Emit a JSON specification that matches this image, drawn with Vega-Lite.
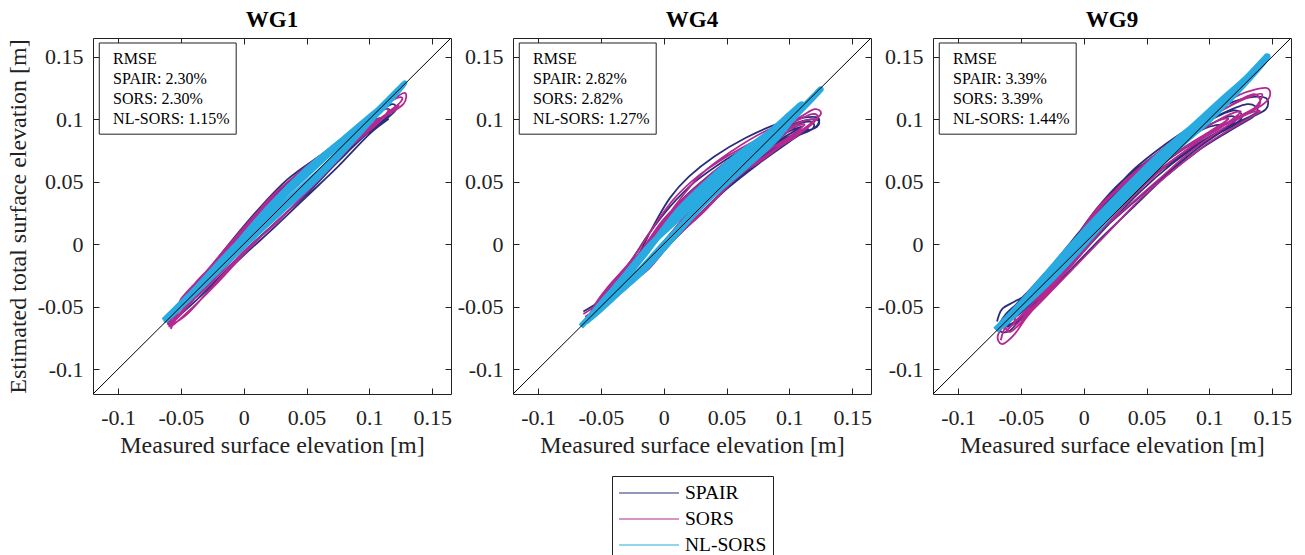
{
"$schema":"https://vega.github.io/schema/vega-lite/v6.json",
"padding":{"left":5,"top":8,"right":5,"bottom":0},
"background":"white",
"config":{
 "view":{"stroke":"#222","strokeWidth":1},
 "font":"Liberation Serif",
 "axis":{"labelFont":"Liberation Serif","labelFontSize":22,"titleFont":"Liberation Serif","titleFontSize":24,"titleFontWeight":"normal","labelColor":"#222","titleColor":"#222","domain":false,"tickColor":"#222","tickSize":-6,"grid":false},
 "title":{"font":"Liberation Serif","fontSize":23,"fontWeight":"bold","color":"#000","offset":6}
},
"resolve":{"scale":{"color":"shared"},"legend":{"color":"shared"}},
"spacing":4,
"data":{"values":[
{"p":"WG1","s":"info","t":"RMSE\nSPAIR: 2.30%\nSORS: 2.30%\nNL-SORS: 1.15%"},
{"p":"WG4","s":"info","t":"RMSE\nSPAIR: 2.82%\nSORS: 2.82%\nNL-SORS: 1.27%"},
{"p":"WG9","s":"info","t":"RMSE\nSPAIR: 3.39%\nSORS: 3.39%\nNL-SORS: 1.44%"},
{"p":"WG1","s":"SPAIR","x":-0.062,"y":-0.058},{"p":"WG1","s":"SPAIR","x":-0.045,"y":-0.04},{"p":"WG1","s":"SPAIR","x":-0.02,"y":-0.012},{"p":"WG1","s":"SPAIR","x":0.0,"y":0.008},{"p":"WG1","s":"SPAIR","x":0.02,"y":0.035},{"p":"WG1","s":"SPAIR","x":0.05,"y":0.062},{"p":"WG1","s":"SPAIR","x":0.08,"y":0.085},{"p":"WG1","s":"SPAIR","x":0.105,"y":0.104},{"p":"WG1","s":"SPAIR","x":0.118,"y":0.112},{"p":"WG1","s":"SPAIR","x":0.12,"y":0.106},{"p":"WG1","s":"SPAIR","x":0.1,"y":0.09},{"p":"WG1","s":"SPAIR","x":0.07,"y":0.066},{"p":"WG1","s":"SPAIR","x":0.04,"y":0.04},{"p":"WG1","s":"SPAIR","x":0.015,"y":0.022},{"p":"WG1","s":"SPAIR","x":-0.01,"y":-0.005},{"p":"WG1","s":"SPAIR","x":-0.03,"y":-0.028},{"p":"WG1","s":"SPAIR","x":-0.055,"y":-0.052},{"p":"WG1","s":"SPAIR","x":-0.04,"y":-0.035},{"p":"WG1","s":"SPAIR","x":-0.015,"y":-0.008},{"p":"WG1","s":"SPAIR","x":0.01,"y":0.022},{"p":"WG1","s":"SPAIR","x":0.04,"y":0.05},{"p":"WG1","s":"SPAIR","x":0.07,"y":0.075},{"p":"WG1","s":"SPAIR","x":0.095,"y":0.095},{"p":"WG1","s":"SPAIR","x":0.11,"y":0.101},{"p":"WG1","s":"SPAIR","x":0.098,"y":0.09},{"p":"WG1","s":"SPAIR","x":0.075,"y":0.066},{"p":"WG1","s":"SPAIR","x":0.065,"y":0.062},{"p":"WG1","s":"SPAIR","x":0.035,"y":0.033},{"p":"WG1","s":"SPAIR","x":0.005,"y":0.008},{"p":"WG1","s":"SPAIR","x":-0.025,"y":-0.024},{"p":"WG1","s":"SPAIR","x":-0.05,"y":-0.048},{"p":"WG1","s":"SPAIR","x":-0.06,"y":-0.06},{"p":"WG1","s":"SPAIR","x":-0.045,"y":-0.041},{"p":"WG1","s":"SPAIR","x":-0.02,"y":-0.016},{"p":"WG1","s":"SPAIR","x":0.005,"y":0.012},{"p":"WG1","s":"SPAIR","x":0.03,"y":0.04},{"p":"WG1","s":"SPAIR","x":0.055,"y":0.062},{"p":"WG1","s":"SPAIR","x":0.085,"y":0.088},{"p":"WG1","s":"SPAIR","x":0.09,"y":0.085},{"p":"WG1","s":"SPAIR","x":0.06,"y":0.058},{"p":"WG1","s":"SPAIR","x":0.03,"y":0.03},{"p":"WG1","s":"SPAIR","x":0.0,"y":0.0},{"p":"WG1","s":"SPAIR","x":-0.03,"y":-0.03},{"p":"WG1","s":"SPAIR","x":-0.058,"y":-0.055},
{"p":"WG1","s":"SPAIR","x":-0.04,"y":-0.036},{"p":"WG1","s":"SPAIR","x":-0.015,"y":-0.004},{"p":"WG1","s":"SPAIR","x":0.01,"y":0.026},{"p":"WG1","s":"SPAIR","x":0.035,"y":0.052},{"p":"WG1","s":"SPAIR","x":0.065,"y":0.074},{"p":"WG1","s":"SPAIR","x":0.09,"y":0.094},{"p":"WG1","s":"SPAIR","x":0.112,"y":0.108},{"p":"WG1","s":"SPAIR","x":0.115,"y":0.103},{"p":"WG1","s":"SPAIR","x":0.095,"y":0.086},{"p":"WG1","s":"SPAIR","x":0.065,"y":0.06},{"p":"WG1","s":"SPAIR","x":0.04,"y":0.036},{"p":"WG1","s":"SPAIR","x":0.012,"y":0.014},{"p":"WG1","s":"SPAIR","x":-0.012,"y":-0.01},{"p":"WG1","s":"SPAIR","x":-0.035,"y":-0.034},{"p":"WG1","s":"SPAIR","x":-0.056,"y":-0.058},{"p":"WG1","s":"SPAIR","x":-0.042,"y":-0.038},{"p":"WG1","s":"SPAIR","x":-0.018,"y":-0.01},{"p":"WG1","s":"SPAIR","x":0.008,"y":0.018},{"p":"WG1","s":"SPAIR","x":0.03,"y":0.044},{"p":"WG1","s":"SPAIR","x":0.06,"y":0.066},{"p":"WG1","s":"SPAIR","x":0.088,"y":0.09},{"p":"WG1","s":"SPAIR","x":0.102,"y":0.098},{"p":"WG1","s":"SPAIR","x":0.085,"y":0.08},{"p":"WG1","s":"SPAIR","x":0.055,"y":0.052},{"p":"WG1","s":"SPAIR","x":0.025,"y":0.026},{"p":"WG1","s":"SPAIR","x":0.0,"y":0.003},{"p":"WG1","s":"SPAIR","x":-0.025,"y":-0.026},{"p":"WG1","s":"SPAIR","x":-0.05,"y":-0.05},
{"p":"WG1","s":"SPAIR","x":-0.06,"y":-0.064},{"p":"WG1","s":"SPAIR","x":-0.04,"y":-0.047},{"p":"WG1","s":"SPAIR","x":-0.02,"y":-0.027},{"p":"WG1","s":"SPAIR","x":0.0,"y":-0.006},{"p":"WG1","s":"SPAIR","x":0.025,"y":0.017},{"p":"WG1","s":"SPAIR","x":0.05,"y":0.04},{"p":"WG1","s":"SPAIR","x":0.075,"y":0.066},{"p":"WG1","s":"SPAIR","x":0.1,"y":0.09},{"p":"WG1","s":"SPAIR","x":0.115,"y":0.1},{"p":"WG1","s":"SPAIR","x":0.1,"y":0.088},{"p":"WG1","s":"SPAIR","x":0.075,"y":0.062},{"p":"WG1","s":"SPAIR","x":0.05,"y":0.038},{"p":"WG1","s":"SPAIR","x":0.025,"y":0.014},{"p":"WG1","s":"SPAIR","x":0.0,"y":-0.009},{"p":"WG1","s":"SPAIR","x":-0.025,"y":-0.033},{"p":"WG1","s":"SPAIR","x":-0.05,"y":-0.056},
{"p":"WG1","s":"SORS","x":-0.058,"y":-0.068},{"p":"WG1","s":"SORS","x":-0.05,"y":-0.05},{"p":"WG1","s":"SORS","x":-0.035,"y":-0.03},{"p":"WG1","s":"SORS","x":-0.015,"y":-0.008},{"p":"WG1","s":"SORS","x":0.005,"y":0.016},{"p":"WG1","s":"SORS","x":0.03,"y":0.042},{"p":"WG1","s":"SORS","x":0.06,"y":0.068},{"p":"WG1","s":"SORS","x":0.09,"y":0.093},{"p":"WG1","s":"SORS","x":0.115,"y":0.113},{"p":"WG1","s":"SORS","x":0.128,"y":0.121},{"p":"WG1","s":"SORS","x":0.127,"y":0.112},{"p":"WG1","s":"SORS","x":0.11,"y":0.1},{"p":"WG1","s":"SORS","x":0.085,"y":0.08},{"p":"WG1","s":"SORS","x":0.055,"y":0.055},{"p":"WG1","s":"SORS","x":0.03,"y":0.032},{"p":"WG1","s":"SORS","x":0.008,"y":0.012},{"p":"WG1","s":"SORS","x":-0.015,"y":-0.014},{"p":"WG1","s":"SORS","x":-0.035,"y":-0.036},{"p":"WG1","s":"SORS","x":-0.052,"y":-0.058},{"p":"WG1","s":"SORS","x":-0.06,"y":-0.062},{"p":"WG1","s":"SORS","x":-0.045,"y":-0.04},{"p":"WG1","s":"SORS","x":-0.025,"y":-0.018},{"p":"WG1","s":"SORS","x":-0.005,"y":0.006},{"p":"WG1","s":"SORS","x":0.02,"y":0.036},{"p":"WG1","s":"SORS","x":0.045,"y":0.058},{"p":"WG1","s":"SORS","x":0.075,"y":0.082},{"p":"WG1","s":"SORS","x":0.1,"y":0.102},{"p":"WG1","s":"SORS","x":0.115,"y":0.108},{"p":"WG1","s":"SORS","x":0.105,"y":0.095},{"p":"WG1","s":"SORS","x":0.075,"y":0.07},{"p":"WG1","s":"SORS","x":0.045,"y":0.044},{"p":"WG1","s":"SORS","x":0.02,"y":0.022},{"p":"WG1","s":"SORS","x":-0.005,"y":-0.004},{"p":"WG1","s":"SORS","x":-0.028,"y":-0.032},{"p":"WG1","s":"SORS","x":-0.048,"y":-0.052},{"p":"WG1","s":"SORS","x":-0.055,"y":-0.06},{"p":"WG1","s":"SORS","x":-0.04,"y":-0.033},{"p":"WG1","s":"SORS","x":-0.02,"y":-0.012},{"p":"WG1","s":"SORS","x":0.0,"y":0.012},{"p":"WG1","s":"SORS","x":0.025,"y":0.038},{"p":"WG1","s":"SORS","x":0.05,"y":0.06},{"p":"WG1","s":"SORS","x":0.08,"y":0.085},{"p":"WG1","s":"SORS","x":0.1,"y":0.097},{"p":"WG1","s":"SORS","x":0.09,"y":0.086},{"p":"WG1","s":"SORS","x":0.06,"y":0.058},{"p":"WG1","s":"SORS","x":0.035,"y":0.034},{"p":"WG1","s":"SORS","x":0.01,"y":0.01},{"p":"WG1","s":"SORS","x":-0.02,"y":-0.022},{"p":"WG1","s":"SORS","x":-0.045,"y":-0.048},
{"p":"WG1","s":"SORS","x":-0.05,"y":-0.044},{"p":"WG1","s":"SORS","x":-0.03,"y":-0.022},{"p":"WG1","s":"SORS","x":-0.008,"y":0.004},{"p":"WG1","s":"SORS","x":0.015,"y":0.03},{"p":"WG1","s":"SORS","x":0.04,"y":0.054},{"p":"WG1","s":"SORS","x":0.07,"y":0.078},{"p":"WG1","s":"SORS","x":0.095,"y":0.098},{"p":"WG1","s":"SORS","x":0.12,"y":0.116},{"p":"WG1","s":"SORS","x":0.125,"y":0.114},{"p":"WG1","s":"SORS","x":0.1,"y":0.092},{"p":"WG1","s":"SORS","x":0.07,"y":0.064},{"p":"WG1","s":"SORS","x":0.04,"y":0.038},{"p":"WG1","s":"SORS","x":0.015,"y":0.016},{"p":"WG1","s":"SORS","x":-0.01,"y":-0.01},{"p":"WG1","s":"SORS","x":-0.03,"y":-0.033},{"p":"WG1","s":"SORS","x":-0.05,"y":-0.056},{"p":"WG1","s":"SORS","x":-0.058,"y":-0.064},{"p":"WG1","s":"SORS","x":-0.045,"y":-0.043},{"p":"WG1","s":"SORS","x":-0.022,"y":-0.016},{"p":"WG1","s":"SORS","x":0.0,"y":0.01},{"p":"WG1","s":"SORS","x":0.02,"y":0.032},{"p":"WG1","s":"SORS","x":0.045,"y":0.055},{"p":"WG1","s":"SORS","x":0.07,"y":0.076},{"p":"WG1","s":"SORS","x":0.095,"y":0.094},{"p":"WG1","s":"SORS","x":0.108,"y":0.1},{"p":"WG1","s":"SORS","x":0.095,"y":0.088},{"p":"WG1","s":"SORS","x":0.065,"y":0.062},{"p":"WG1","s":"SORS","x":0.04,"y":0.04},{"p":"WG1","s":"SORS","x":0.012,"y":0.014},{"p":"WG1","s":"SORS","x":-0.012,"y":-0.016},{"p":"WG1","s":"SORS","x":-0.035,"y":-0.04},{"p":"WG1","s":"SORS","x":-0.055,"y":-0.056},
{"p":"WG1","s":"SORS","x":-0.058,"y":-0.066},{"p":"WG1","s":"SORS","x":-0.04,"y":-0.05},{"p":"WG1","s":"SORS","x":-0.02,"y":-0.03},{"p":"WG1","s":"SORS","x":0.0,"y":-0.008},{"p":"WG1","s":"SORS","x":0.02,"y":0.012},{"p":"WG1","s":"SORS","x":0.045,"y":0.036},{"p":"WG1","s":"SORS","x":0.07,"y":0.062},{"p":"WG1","s":"SORS","x":0.095,"y":0.088},{"p":"WG1","s":"SORS","x":0.118,"y":0.108},{"p":"WG1","s":"SORS","x":0.122,"y":0.11},{"p":"WG1","s":"SORS","x":0.1,"y":0.094},{"p":"WG1","s":"SORS","x":0.075,"y":0.07},{"p":"WG1","s":"SORS","x":0.05,"y":0.042},{"p":"WG1","s":"SORS","x":0.025,"y":0.016},{"p":"WG1","s":"SORS","x":0.0,"y":-0.006},{"p":"WG1","s":"SORS","x":-0.025,"y":-0.034},{"p":"WG1","s":"SORS","x":-0.045,"y":-0.056},{"p":"WG1","s":"SORS","x":-0.06,"y":-0.066},
{"p":"WG1","s":"NL-SORS","x":-0.064,"y":-0.061},{"p":"WG1","s":"NL-SORS","x":-0.04,"y":-0.037},{"p":"WG1","s":"NL-SORS","x":-0.02,"y":-0.015},{"p":"WG1","s":"NL-SORS","x":0.0,"y":0.006},{"p":"WG1","s":"NL-SORS","x":0.02,"y":0.027},{"p":"WG1","s":"NL-SORS","x":0.05,"y":0.055},{"p":"WG1","s":"NL-SORS","x":0.08,"y":0.083},{"p":"WG1","s":"NL-SORS","x":0.105,"y":0.106},{"p":"WG1","s":"NL-SORS","x":0.128,"y":0.129},{"p":"WG1","s":"NL-SORS","x":0.115,"y":0.113},{"p":"WG1","s":"NL-SORS","x":0.09,"y":0.088},{"p":"WG1","s":"NL-SORS","x":0.06,"y":0.058},{"p":"WG1","s":"NL-SORS","x":0.03,"y":0.031},{"p":"WG1","s":"NL-SORS","x":0.005,"y":0.006},{"p":"WG1","s":"NL-SORS","x":-0.02,"y":-0.02},{"p":"WG1","s":"NL-SORS","x":-0.045,"y":-0.045},{"p":"WG1","s":"NL-SORS","x":-0.062,"y":-0.061},{"p":"WG1","s":"NL-SORS","x":-0.04,"y":-0.039},{"p":"WG1","s":"NL-SORS","x":-0.01,"y":-0.005},{"p":"WG1","s":"NL-SORS","x":0.02,"y":0.03},{"p":"WG1","s":"NL-SORS","x":0.05,"y":0.06},{"p":"WG1","s":"NL-SORS","x":0.08,"y":0.085},{"p":"WG1","s":"NL-SORS","x":0.11,"y":0.11},{"p":"WG1","s":"NL-SORS","x":0.09,"y":0.086},{"p":"WG1","s":"NL-SORS","x":0.06,"y":0.054},{"p":"WG1","s":"NL-SORS","x":0.03,"y":0.026},{"p":"WG1","s":"NL-SORS","x":0.0,"y":-0.002},{"p":"WG1","s":"NL-SORS","x":-0.03,"y":-0.031},{"p":"WG1","s":"NL-SORS","x":-0.058,"y":-0.058},
{"p":"WG4","s":"SPAIR","x":-0.064,"y":-0.054},{"p":"WG4","s":"SPAIR","x":-0.05,"y":-0.045},{"p":"WG4","s":"SPAIR","x":-0.035,"y":-0.03},{"p":"WG4","s":"SPAIR","x":-0.02,"y":-0.008},{"p":"WG4","s":"SPAIR","x":-0.008,"y":0.015},{"p":"WG4","s":"SPAIR","x":0.005,"y":0.037},{"p":"WG4","s":"SPAIR","x":0.02,"y":0.054},{"p":"WG4","s":"SPAIR","x":0.04,"y":0.07},{"p":"WG4","s":"SPAIR","x":0.065,"y":0.085},{"p":"WG4","s":"SPAIR","x":0.09,"y":0.096},{"p":"WG4","s":"SPAIR","x":0.11,"y":0.101},{"p":"WG4","s":"SPAIR","x":0.123,"y":0.101},{"p":"WG4","s":"SPAIR","x":0.12,"y":0.093},{"p":"WG4","s":"SPAIR","x":0.1,"y":0.086},{"p":"WG4","s":"SPAIR","x":0.08,"y":0.075},{"p":"WG4","s":"SPAIR","x":0.055,"y":0.058},{"p":"WG4","s":"SPAIR","x":0.03,"y":0.035},{"p":"WG4","s":"SPAIR","x":0.01,"y":0.012},{"p":"WG4","s":"SPAIR","x":-0.01,"y":-0.014},{"p":"WG4","s":"SPAIR","x":-0.03,"y":-0.032},{"p":"WG4","s":"SPAIR","x":-0.05,"y":-0.05},{"p":"WG4","s":"SPAIR","x":-0.06,"y":-0.058},{"p":"WG4","s":"SPAIR","x":-0.045,"y":-0.038},{"p":"WG4","s":"SPAIR","x":-0.025,"y":-0.018},{"p":"WG4","s":"SPAIR","x":-0.005,"y":0.01},{"p":"WG4","s":"SPAIR","x":0.015,"y":0.036},{"p":"WG4","s":"SPAIR","x":0.04,"y":0.058},{"p":"WG4","s":"SPAIR","x":0.065,"y":0.076},{"p":"WG4","s":"SPAIR","x":0.09,"y":0.09},{"p":"WG4","s":"SPAIR","x":0.115,"y":0.098},{"p":"WG4","s":"SPAIR","x":0.118,"y":0.092},{"p":"WG4","s":"SPAIR","x":0.095,"y":0.082},{"p":"WG4","s":"SPAIR","x":0.07,"y":0.067},{"p":"WG4","s":"SPAIR","x":0.045,"y":0.048},{"p":"WG4","s":"SPAIR","x":0.02,"y":0.025},{"p":"WG4","s":"SPAIR","x":0.0,"y":0.002},{"p":"WG4","s":"SPAIR","x":-0.02,"y":-0.022},{"p":"WG4","s":"SPAIR","x":-0.04,"y":-0.04},{"p":"WG4","s":"SPAIR","x":-0.055,"y":-0.055},{"p":"WG4","s":"SPAIR","x":-0.04,"y":-0.034},{"p":"WG4","s":"SPAIR","x":-0.02,"y":-0.01},{"p":"WG4","s":"SPAIR","x":0.0,"y":0.018},{"p":"WG4","s":"SPAIR","x":0.025,"y":0.045},{"p":"WG4","s":"SPAIR","x":0.05,"y":0.065},{"p":"WG4","s":"SPAIR","x":0.075,"y":0.08},{"p":"WG4","s":"SPAIR","x":0.1,"y":0.093},{"p":"WG4","s":"SPAIR","x":0.105,"y":0.088},{"p":"WG4","s":"SPAIR","x":0.08,"y":0.075},{"p":"WG4","s":"SPAIR","x":0.055,"y":0.056},{"p":"WG4","s":"SPAIR","x":0.03,"y":0.033},{"p":"WG4","s":"SPAIR","x":0.005,"y":0.006},{"p":"WG4","s":"SPAIR","x":-0.015,"y":-0.018},{"p":"WG4","s":"SPAIR","x":-0.035,"y":-0.036},{"p":"WG4","s":"SPAIR","x":-0.05,"y":-0.05},
{"p":"WG4","s":"SPAIR","x":-0.045,"y":-0.036},{"p":"WG4","s":"SPAIR","x":-0.028,"y":-0.016},{"p":"WG4","s":"SPAIR","x":-0.012,"y":0.008},{"p":"WG4","s":"SPAIR","x":0.005,"y":0.03},{"p":"WG4","s":"SPAIR","x":0.025,"y":0.05},{"p":"WG4","s":"SPAIR","x":0.05,"y":0.068},{"p":"WG4","s":"SPAIR","x":0.075,"y":0.083},{"p":"WG4","s":"SPAIR","x":0.1,"y":0.095},{"p":"WG4","s":"SPAIR","x":0.12,"y":0.1},{"p":"WG4","s":"SPAIR","x":0.122,"y":0.094},{"p":"WG4","s":"SPAIR","x":0.1,"y":0.084},{"p":"WG4","s":"SPAIR","x":0.075,"y":0.068},{"p":"WG4","s":"SPAIR","x":0.05,"y":0.05},{"p":"WG4","s":"SPAIR","x":0.025,"y":0.028},{"p":"WG4","s":"SPAIR","x":0.005,"y":0.006},{"p":"WG4","s":"SPAIR","x":-0.015,"y":-0.017},{"p":"WG4","s":"SPAIR","x":-0.035,"y":-0.036},{"p":"WG4","s":"SPAIR","x":-0.058,"y":-0.056},{"p":"WG4","s":"SPAIR","x":-0.045,"y":-0.04},{"p":"WG4","s":"SPAIR","x":-0.025,"y":-0.016},{"p":"WG4","s":"SPAIR","x":-0.005,"y":0.012},{"p":"WG4","s":"SPAIR","x":0.02,"y":0.04},{"p":"WG4","s":"SPAIR","x":0.045,"y":0.06},{"p":"WG4","s":"SPAIR","x":0.07,"y":0.074},{"p":"WG4","s":"SPAIR","x":0.095,"y":0.088},{"p":"WG4","s":"SPAIR","x":0.11,"y":0.094},{"p":"WG4","s":"SPAIR","x":0.09,"y":0.082},{"p":"WG4","s":"SPAIR","x":0.065,"y":0.064},{"p":"WG4","s":"SPAIR","x":0.04,"y":0.042},{"p":"WG4","s":"SPAIR","x":0.015,"y":0.018},{"p":"WG4","s":"SPAIR","x":-0.008,"y":-0.008},{"p":"WG4","s":"SPAIR","x":-0.03,"y":-0.03},{"p":"WG4","s":"SPAIR","x":-0.052,"y":-0.05},
{"p":"WG4","s":"SPAIR","x":-0.058,"y":-0.056},{"p":"WG4","s":"SPAIR","x":-0.04,"y":-0.042},{"p":"WG4","s":"SPAIR","x":-0.02,"y":-0.024},{"p":"WG4","s":"SPAIR","x":0.0,"y":-0.002},{"p":"WG4","s":"SPAIR","x":0.02,"y":0.016},{"p":"WG4","s":"SPAIR","x":0.045,"y":0.04},{"p":"WG4","s":"SPAIR","x":0.07,"y":0.062},{"p":"WG4","s":"SPAIR","x":0.095,"y":0.082},{"p":"WG4","s":"SPAIR","x":0.115,"y":0.092},{"p":"WG4","s":"SPAIR","x":0.1,"y":0.082},{"p":"WG4","s":"SPAIR","x":0.075,"y":0.064},{"p":"WG4","s":"SPAIR","x":0.05,"y":0.044},{"p":"WG4","s":"SPAIR","x":0.025,"y":0.02},{"p":"WG4","s":"SPAIR","x":0.005,"y":0.0},{"p":"WG4","s":"SPAIR","x":-0.015,"y":-0.022},{"p":"WG4","s":"SPAIR","x":-0.035,"y":-0.038},{"p":"WG4","s":"SPAIR","x":-0.055,"y":-0.054},
{"p":"WG4","s":"SORS","x":-0.064,"y":-0.056},{"p":"WG4","s":"SORS","x":-0.05,"y":-0.046},{"p":"WG4","s":"SORS","x":-0.035,"y":-0.03},{"p":"WG4","s":"SORS","x":-0.02,"y":-0.013},{"p":"WG4","s":"SORS","x":-0.005,"y":0.01},{"p":"WG4","s":"SORS","x":0.01,"y":0.032},{"p":"WG4","s":"SORS","x":0.03,"y":0.056},{"p":"WG4","s":"SORS","x":0.055,"y":0.075},{"p":"WG4","s":"SORS","x":0.08,"y":0.09},{"p":"WG4","s":"SORS","x":0.105,"y":0.1},{"p":"WG4","s":"SORS","x":0.12,"y":0.108},{"p":"WG4","s":"SORS","x":0.125,"y":0.104},{"p":"WG4","s":"SORS","x":0.115,"y":0.095},{"p":"WG4","s":"SORS","x":0.095,"y":0.08},{"p":"WG4","s":"SORS","x":0.075,"y":0.065},{"p":"WG4","s":"SORS","x":0.05,"y":0.05},{"p":"WG4","s":"SORS","x":0.025,"y":0.028},{"p":"WG4","s":"SORS","x":0.005,"y":0.005},{"p":"WG4","s":"SORS","x":-0.015,"y":-0.02},{"p":"WG4","s":"SORS","x":-0.035,"y":-0.04},{"p":"WG4","s":"SORS","x":-0.055,"y":-0.054},{"p":"WG4","s":"SORS","x":-0.045,"y":-0.037},{"p":"WG4","s":"SORS","x":-0.03,"y":-0.02},{"p":"WG4","s":"SORS","x":-0.01,"y":0.002},{"p":"WG4","s":"SORS","x":0.01,"y":0.028},{"p":"WG4","s":"SORS","x":0.035,"y":0.052},{"p":"WG4","s":"SORS","x":0.06,"y":0.07},{"p":"WG4","s":"SORS","x":0.085,"y":0.086},{"p":"WG4","s":"SORS","x":0.11,"y":0.098},{"p":"WG4","s":"SORS","x":0.12,"y":0.099},{"p":"WG4","s":"SORS","x":0.11,"y":0.09},{"p":"WG4","s":"SORS","x":0.085,"y":0.076},{"p":"WG4","s":"SORS","x":0.06,"y":0.06},{"p":"WG4","s":"SORS","x":0.035,"y":0.04},{"p":"WG4","s":"SORS","x":0.012,"y":0.016},{"p":"WG4","s":"SORS","x":-0.008,"y":-0.01},{"p":"WG4","s":"SORS","x":-0.028,"y":-0.032},{"p":"WG4","s":"SORS","x":-0.048,"y":-0.048},{"p":"WG4","s":"SORS","x":-0.06,"y":-0.058},{"p":"WG4","s":"SORS","x":-0.04,"y":-0.03},{"p":"WG4","s":"SORS","x":-0.02,"y":-0.008},{"p":"WG4","s":"SORS","x":0.0,"y":0.02},{"p":"WG4","s":"SORS","x":0.025,"y":0.045},{"p":"WG4","s":"SORS","x":0.05,"y":0.066},{"p":"WG4","s":"SORS","x":0.08,"y":0.084},{"p":"WG4","s":"SORS","x":0.1,"y":0.092},{"p":"WG4","s":"SORS","x":0.09,"y":0.083},{"p":"WG4","s":"SORS","x":0.065,"y":0.066},{"p":"WG4","s":"SORS","x":0.04,"y":0.045},{"p":"WG4","s":"SORS","x":0.015,"y":0.02},{"p":"WG4","s":"SORS","x":-0.01,"y":-0.013},{"p":"WG4","s":"SORS","x":-0.035,"y":-0.035},{"p":"WG4","s":"SORS","x":-0.055,"y":-0.05},
{"p":"WG4","s":"SORS","x":-0.045,"y":-0.035},{"p":"WG4","s":"SORS","x":-0.025,"y":-0.012},{"p":"WG4","s":"SORS","x":-0.008,"y":0.014},{"p":"WG4","s":"SORS","x":0.008,"y":0.036},{"p":"WG4","s":"SORS","x":0.028,"y":0.055},{"p":"WG4","s":"SORS","x":0.05,"y":0.07},{"p":"WG4","s":"SORS","x":0.075,"y":0.084},{"p":"WG4","s":"SORS","x":0.1,"y":0.096},{"p":"WG4","s":"SORS","x":0.118,"y":0.104},{"p":"WG4","s":"SORS","x":0.122,"y":0.1},{"p":"WG4","s":"SORS","x":0.105,"y":0.088},{"p":"WG4","s":"SORS","x":0.08,"y":0.07},{"p":"WG4","s":"SORS","x":0.055,"y":0.054},{"p":"WG4","s":"SORS","x":0.03,"y":0.032},{"p":"WG4","s":"SORS","x":0.008,"y":0.01},{"p":"WG4","s":"SORS","x":-0.012,"y":-0.015},{"p":"WG4","s":"SORS","x":-0.032,"y":-0.035},{"p":"WG4","s":"SORS","x":-0.055,"y":-0.056},{"p":"WG4","s":"SORS","x":-0.042,"y":-0.036},{"p":"WG4","s":"SORS","x":-0.022,"y":-0.012},{"p":"WG4","s":"SORS","x":-0.002,"y":0.016},{"p":"WG4","s":"SORS","x":0.02,"y":0.04},{"p":"WG4","s":"SORS","x":0.045,"y":0.061},{"p":"WG4","s":"SORS","x":0.07,"y":0.076},{"p":"WG4","s":"SORS","x":0.095,"y":0.09},{"p":"WG4","s":"SORS","x":0.112,"y":0.096},{"p":"WG4","s":"SORS","x":0.1,"y":0.086},{"p":"WG4","s":"SORS","x":0.075,"y":0.07},{"p":"WG4","s":"SORS","x":0.05,"y":0.05},{"p":"WG4","s":"SORS","x":0.025,"y":0.026},{"p":"WG4","s":"SORS","x":0.0,"y":0.0},{"p":"WG4","s":"SORS","x":-0.025,"y":-0.027},{"p":"WG4","s":"SORS","x":-0.05,"y":-0.05},
{"p":"WG4","s":"SORS","x":-0.062,"y":-0.058},{"p":"WG4","s":"SORS","x":-0.045,"y":-0.046},{"p":"WG4","s":"SORS","x":-0.025,"y":-0.028},{"p":"WG4","s":"SORS","x":-0.005,"y":-0.008},{"p":"WG4","s":"SORS","x":0.015,"y":0.012},{"p":"WG4","s":"SORS","x":0.035,"y":0.03},{"p":"WG4","s":"SORS","x":0.06,"y":0.056},{"p":"WG4","s":"SORS","x":0.085,"y":0.076},{"p":"WG4","s":"SORS","x":0.11,"y":0.09},{"p":"WG4","s":"SORS","x":0.12,"y":0.098},{"p":"WG4","s":"SORS","x":0.105,"y":0.086},{"p":"WG4","s":"SORS","x":0.08,"y":0.07},{"p":"WG4","s":"SORS","x":0.055,"y":0.05},{"p":"WG4","s":"SORS","x":0.03,"y":0.024},{"p":"WG4","s":"SORS","x":0.008,"y":0.004},{"p":"WG4","s":"SORS","x":-0.012,"y":-0.02},{"p":"WG4","s":"SORS","x":-0.032,"y":-0.034},{"p":"WG4","s":"SORS","x":-0.05,"y":-0.05},
{"p":"WG4","s":"NL-SORS","x":-0.066,"y":-0.066},{"p":"WG4","s":"NL-SORS","x":-0.045,"y":-0.043},{"p":"WG4","s":"NL-SORS","x":-0.025,"y":-0.02},{"p":"WG4","s":"NL-SORS","x":-0.005,"y":0.005},{"p":"WG4","s":"NL-SORS","x":0.015,"y":0.028},{"p":"WG4","s":"NL-SORS","x":0.035,"y":0.048},{"p":"WG4","s":"NL-SORS","x":0.06,"y":0.068},{"p":"WG4","s":"NL-SORS","x":0.085,"y":0.088},{"p":"WG4","s":"NL-SORS","x":0.105,"y":0.104},{"p":"WG4","s":"NL-SORS","x":0.125,"y":0.124},{"p":"WG4","s":"NL-SORS","x":0.11,"y":0.108},{"p":"WG4","s":"NL-SORS","x":0.09,"y":0.088},{"p":"WG4","s":"NL-SORS","x":0.065,"y":0.068},{"p":"WG4","s":"NL-SORS","x":0.04,"y":0.046},{"p":"WG4","s":"NL-SORS","x":0.02,"y":0.022},{"p":"WG4","s":"NL-SORS","x":0.0,"y":0.0},{"p":"WG4","s":"NL-SORS","x":-0.02,"y":-0.022},{"p":"WG4","s":"NL-SORS","x":-0.04,"y":-0.042},{"p":"WG4","s":"NL-SORS","x":-0.062,"y":-0.062},{"p":"WG4","s":"NL-SORS","x":-0.04,"y":-0.038},{"p":"WG4","s":"NL-SORS","x":-0.015,"y":-0.008},{"p":"WG4","s":"NL-SORS","x":0.01,"y":0.025},{"p":"WG4","s":"NL-SORS","x":0.035,"y":0.05},{"p":"WG4","s":"NL-SORS","x":0.06,"y":0.072},{"p":"WG4","s":"NL-SORS","x":0.085,"y":0.09},{"p":"WG4","s":"NL-SORS","x":0.11,"y":0.112},{"p":"WG4","s":"NL-SORS","x":0.09,"y":0.085},{"p":"WG4","s":"NL-SORS","x":0.065,"y":0.062},{"p":"WG4","s":"NL-SORS","x":0.04,"y":0.04},{"p":"WG4","s":"NL-SORS","x":0.015,"y":0.015},{"p":"WG4","s":"NL-SORS","x":-0.01,"y":-0.012},{"p":"WG4","s":"NL-SORS","x":-0.035,"y":-0.038},{"p":"WG4","s":"NL-SORS","x":-0.06,"y":-0.06},{"p":"WG4","s":"NL-SORS","x":-0.035,"y":-0.03},{"p":"WG4","s":"NL-SORS","x":-0.01,"y":0.0},{"p":"WG4","s":"NL-SORS","x":0.015,"y":0.024},{"p":"WG4","s":"NL-SORS","x":0.04,"y":0.052},{"p":"WG4","s":"NL-SORS","x":0.065,"y":0.074},{"p":"WG4","s":"NL-SORS","x":0.09,"y":0.091},{"p":"WG4","s":"NL-SORS","x":0.1,"y":0.1},{"p":"WG4","s":"NL-SORS","x":0.085,"y":0.082},{"p":"WG4","s":"NL-SORS","x":0.06,"y":0.06},{"p":"WG4","s":"NL-SORS","x":0.035,"y":0.036},{"p":"WG4","s":"NL-SORS","x":0.01,"y":0.008},{"p":"WG4","s":"NL-SORS","x":-0.015,"y":-0.02},{"p":"WG4","s":"NL-SORS","x":-0.04,"y":-0.042},
{"p":"WG9","s":"SPAIR","x":-0.069,"y":-0.062},{"p":"WG9","s":"SPAIR","x":-0.065,"y":-0.052},{"p":"WG9","s":"SPAIR","x":-0.055,"y":-0.046},{"p":"WG9","s":"SPAIR","x":-0.045,"y":-0.04},{"p":"WG9","s":"SPAIR","x":-0.03,"y":-0.025},{"p":"WG9","s":"SPAIR","x":-0.015,"y":-0.006},{"p":"WG9","s":"SPAIR","x":0.0,"y":0.013},{"p":"WG9","s":"SPAIR","x":0.02,"y":0.038},{"p":"WG9","s":"SPAIR","x":0.04,"y":0.06},{"p":"WG9","s":"SPAIR","x":0.065,"y":0.08},{"p":"WG9","s":"SPAIR","x":0.09,"y":0.097},{"p":"WG9","s":"SPAIR","x":0.11,"y":0.11},{"p":"WG9","s":"SPAIR","x":0.13,"y":0.117},{"p":"WG9","s":"SPAIR","x":0.145,"y":0.117},{"p":"WG9","s":"SPAIR","x":0.145,"y":0.108},{"p":"WG9","s":"SPAIR","x":0.13,"y":0.1},{"p":"WG9","s":"SPAIR","x":0.11,"y":0.09},{"p":"WG9","s":"SPAIR","x":0.09,"y":0.079},{"p":"WG9","s":"SPAIR","x":0.07,"y":0.066},{"p":"WG9","s":"SPAIR","x":0.045,"y":0.045},{"p":"WG9","s":"SPAIR","x":0.02,"y":0.02},{"p":"WG9","s":"SPAIR","x":0.0,"y":-0.002},{"p":"WG9","s":"SPAIR","x":-0.02,"y":-0.025},{"p":"WG9","s":"SPAIR","x":-0.035,"y":-0.043},{"p":"WG9","s":"SPAIR","x":-0.05,"y":-0.06},{"p":"WG9","s":"SPAIR","x":-0.06,"y":-0.07},{"p":"WG9","s":"SPAIR","x":-0.068,"y":-0.068},{"p":"WG9","s":"SPAIR","x":-0.062,"y":-0.056},{"p":"WG9","s":"SPAIR","x":-0.05,"y":-0.045},{"p":"WG9","s":"SPAIR","x":-0.035,"y":-0.03},{"p":"WG9","s":"SPAIR","x":-0.015,"y":-0.01},{"p":"WG9","s":"SPAIR","x":0.005,"y":0.02},{"p":"WG9","s":"SPAIR","x":0.025,"y":0.045},{"p":"WG9","s":"SPAIR","x":0.05,"y":0.066},{"p":"WG9","s":"SPAIR","x":0.075,"y":0.084},{"p":"WG9","s":"SPAIR","x":0.1,"y":0.099},{"p":"WG9","s":"SPAIR","x":0.12,"y":0.107},{"p":"WG9","s":"SPAIR","x":0.125,"y":0.1},{"p":"WG9","s":"SPAIR","x":0.105,"y":0.088},{"p":"WG9","s":"SPAIR","x":0.085,"y":0.075},{"p":"WG9","s":"SPAIR","x":0.06,"y":0.058},{"p":"WG9","s":"SPAIR","x":0.035,"y":0.035},{"p":"WG9","s":"SPAIR","x":0.01,"y":0.008},{"p":"WG9","s":"SPAIR","x":-0.01,"y":-0.016},{"p":"WG9","s":"SPAIR","x":-0.03,"y":-0.036},{"p":"WG9","s":"SPAIR","x":-0.05,"y":-0.055},{"p":"WG9","s":"SPAIR","x":-0.06,"y":-0.06},{"p":"WG9","s":"SPAIR","x":-0.045,"y":-0.04},{"p":"WG9","s":"SPAIR","x":-0.025,"y":-0.018},{"p":"WG9","s":"SPAIR","x":-0.005,"y":0.008},{"p":"WG9","s":"SPAIR","x":0.02,"y":0.036},{"p":"WG9","s":"SPAIR","x":0.045,"y":0.058},{"p":"WG9","s":"SPAIR","x":0.07,"y":0.077},{"p":"WG9","s":"SPAIR","x":0.095,"y":0.092},{"p":"WG9","s":"SPAIR","x":0.11,"y":0.095},{"p":"WG9","s":"SPAIR","x":0.09,"y":0.083},{"p":"WG9","s":"SPAIR","x":0.065,"y":0.066},{"p":"WG9","s":"SPAIR","x":0.04,"y":0.044},{"p":"WG9","s":"SPAIR","x":0.015,"y":0.016},{"p":"WG9","s":"SPAIR","x":-0.01,"y":-0.012},{"p":"WG9","s":"SPAIR","x":-0.03,"y":-0.032},{"p":"WG9","s":"SPAIR","x":-0.05,"y":-0.05},
{"p":"WG9","s":"SPAIR","x":-0.05,"y":-0.044},{"p":"WG9","s":"SPAIR","x":-0.032,"y":-0.026},{"p":"WG9","s":"SPAIR","x":-0.012,"y":-0.002},{"p":"WG9","s":"SPAIR","x":0.01,"y":0.028},{"p":"WG9","s":"SPAIR","x":0.03,"y":0.05},{"p":"WG9","s":"SPAIR","x":0.055,"y":0.07},{"p":"WG9","s":"SPAIR","x":0.08,"y":0.088},{"p":"WG9","s":"SPAIR","x":0.105,"y":0.102},{"p":"WG9","s":"SPAIR","x":0.13,"y":0.112},{"p":"WG9","s":"SPAIR","x":0.138,"y":0.106},{"p":"WG9","s":"SPAIR","x":0.12,"y":0.096},{"p":"WG9","s":"SPAIR","x":0.095,"y":0.082},{"p":"WG9","s":"SPAIR","x":0.07,"y":0.064},{"p":"WG9","s":"SPAIR","x":0.045,"y":0.042},{"p":"WG9","s":"SPAIR","x":0.02,"y":0.016},{"p":"WG9","s":"SPAIR","x":-0.002,"y":-0.008},{"p":"WG9","s":"SPAIR","x":-0.022,"y":-0.03},{"p":"WG9","s":"SPAIR","x":-0.04,"y":-0.048},{"p":"WG9","s":"SPAIR","x":-0.058,"y":-0.064},{"p":"WG9","s":"SPAIR","x":-0.062,"y":-0.058},{"p":"WG9","s":"SPAIR","x":-0.048,"y":-0.042},{"p":"WG9","s":"SPAIR","x":-0.028,"y":-0.02},{"p":"WG9","s":"SPAIR","x":-0.008,"y":0.004},{"p":"WG9","s":"SPAIR","x":0.015,"y":0.03},{"p":"WG9","s":"SPAIR","x":0.04,"y":0.054},{"p":"WG9","s":"SPAIR","x":0.065,"y":0.074},{"p":"WG9","s":"SPAIR","x":0.09,"y":0.09},{"p":"WG9","s":"SPAIR","x":0.115,"y":0.102},{"p":"WG9","s":"SPAIR","x":0.12,"y":0.098},{"p":"WG9","s":"SPAIR","x":0.1,"y":0.086},{"p":"WG9","s":"SPAIR","x":0.075,"y":0.07},{"p":"WG9","s":"SPAIR","x":0.05,"y":0.05},{"p":"WG9","s":"SPAIR","x":0.025,"y":0.024},{"p":"WG9","s":"SPAIR","x":0.0,"y":-0.004},{"p":"WG9","s":"SPAIR","x":-0.02,"y":-0.026},{"p":"WG9","s":"SPAIR","x":-0.04,"y":-0.046},{"p":"WG9","s":"SPAIR","x":-0.056,"y":-0.058},
{"p":"WG9","s":"SPAIR","x":-0.06,"y":-0.066},{"p":"WG9","s":"SPAIR","x":-0.04,"y":-0.048},{"p":"WG9","s":"SPAIR","x":-0.02,"y":-0.026},{"p":"WG9","s":"SPAIR","x":0.0,"y":-0.004},{"p":"WG9","s":"SPAIR","x":0.02,"y":0.016},{"p":"WG9","s":"SPAIR","x":0.045,"y":0.038},{"p":"WG9","s":"SPAIR","x":0.07,"y":0.06},{"p":"WG9","s":"SPAIR","x":0.095,"y":0.08},{"p":"WG9","s":"SPAIR","x":0.12,"y":0.096},{"p":"WG9","s":"SPAIR","x":0.135,"y":0.102},{"p":"WG9","s":"SPAIR","x":0.115,"y":0.09},{"p":"WG9","s":"SPAIR","x":0.09,"y":0.074},{"p":"WG9","s":"SPAIR","x":0.065,"y":0.054},{"p":"WG9","s":"SPAIR","x":0.04,"y":0.03},{"p":"WG9","s":"SPAIR","x":0.015,"y":0.006},{"p":"WG9","s":"SPAIR","x":-0.01,"y":-0.02},{"p":"WG9","s":"SPAIR","x":-0.035,"y":-0.046},{"p":"WG9","s":"SPAIR","x":-0.055,"y":-0.064},
{"p":"WG9","s":"SORS","x":-0.066,"y":-0.077},{"p":"WG9","s":"SORS","x":-0.062,"y":-0.066},{"p":"WG9","s":"SORS","x":-0.05,"y":-0.052},{"p":"WG9","s":"SORS","x":-0.04,"y":-0.04},{"p":"WG9","s":"SORS","x":-0.025,"y":-0.022},{"p":"WG9","s":"SORS","x":-0.01,"y":-0.002},{"p":"WG9","s":"SORS","x":0.01,"y":0.025},{"p":"WG9","s":"SORS","x":0.03,"y":0.048},{"p":"WG9","s":"SORS","x":0.055,"y":0.07},{"p":"WG9","s":"SORS","x":0.08,"y":0.09},{"p":"WG9","s":"SORS","x":0.105,"y":0.108},{"p":"WG9","s":"SORS","x":0.125,"y":0.12},{"p":"WG9","s":"SORS","x":0.145,"y":0.125},{"p":"WG9","s":"SORS","x":0.148,"y":0.118},{"p":"WG9","s":"SORS","x":0.14,"y":0.11},{"p":"WG9","s":"SORS","x":0.12,"y":0.1},{"p":"WG9","s":"SORS","x":0.1,"y":0.088},{"p":"WG9","s":"SORS","x":0.08,"y":0.074},{"p":"WG9","s":"SORS","x":0.055,"y":0.055},{"p":"WG9","s":"SORS","x":0.03,"y":0.03},{"p":"WG9","s":"SORS","x":0.01,"y":0.008},{"p":"WG9","s":"SORS","x":-0.01,"y":-0.017},{"p":"WG9","s":"SORS","x":-0.03,"y":-0.04},{"p":"WG9","s":"SORS","x":-0.045,"y":-0.058},{"p":"WG9","s":"SORS","x":-0.055,"y":-0.072},{"p":"WG9","s":"SORS","x":-0.065,"y":-0.08},{"p":"WG9","s":"SORS","x":-0.068,"y":-0.072},{"p":"WG9","s":"SORS","x":-0.055,"y":-0.055},{"p":"WG9","s":"SORS","x":-0.042,"y":-0.042},{"p":"WG9","s":"SORS","x":-0.025,"y":-0.02},{"p":"WG9","s":"SORS","x":-0.005,"y":0.005},{"p":"WG9","s":"SORS","x":0.015,"y":0.032},{"p":"WG9","s":"SORS","x":0.04,"y":0.056},{"p":"WG9","s":"SORS","x":0.065,"y":0.077},{"p":"WG9","s":"SORS","x":0.09,"y":0.095},{"p":"WG9","s":"SORS","x":0.115,"y":0.11},{"p":"WG9","s":"SORS","x":0.135,"y":0.12},{"p":"WG9","s":"SORS","x":0.14,"y":0.112},{"p":"WG9","s":"SORS","x":0.125,"y":0.103},{"p":"WG9","s":"SORS","x":0.105,"y":0.092},{"p":"WG9","s":"SORS","x":0.085,"y":0.08},{"p":"WG9","s":"SORS","x":0.06,"y":0.062},{"p":"WG9","s":"SORS","x":0.035,"y":0.038},{"p":"WG9","s":"SORS","x":0.015,"y":0.014},{"p":"WG9","s":"SORS","x":-0.005,"y":-0.01},{"p":"WG9","s":"SORS","x":-0.025,"y":-0.032},{"p":"WG9","s":"SORS","x":-0.04,"y":-0.05},{"p":"WG9","s":"SORS","x":-0.055,"y":-0.065},{"p":"WG9","s":"SORS","x":-0.05,"y":-0.048},{"p":"WG9","s":"SORS","x":-0.035,"y":-0.032},{"p":"WG9","s":"SORS","x":-0.015,"y":-0.008},{"p":"WG9","s":"SORS","x":0.005,"y":0.02},{"p":"WG9","s":"SORS","x":0.03,"y":0.046},{"p":"WG9","s":"SORS","x":0.055,"y":0.066},{"p":"WG9","s":"SORS","x":0.08,"y":0.083},{"p":"WG9","s":"SORS","x":0.105,"y":0.098},{"p":"WG9","s":"SORS","x":0.115,"y":0.1},{"p":"WG9","s":"SORS","x":0.1,"y":0.09},{"p":"WG9","s":"SORS","x":0.075,"y":0.074},{"p":"WG9","s":"SORS","x":0.05,"y":0.052},{"p":"WG9","s":"SORS","x":0.025,"y":0.026},{"p":"WG9","s":"SORS","x":0.0,"y":-0.002},{"p":"WG9","s":"SORS","x":-0.02,"y":-0.025},{"p":"WG9","s":"SORS","x":-0.04,"y":-0.045},
{"p":"WG9","s":"SORS","x":-0.05,"y":-0.046},{"p":"WG9","s":"SORS","x":-0.03,"y":-0.026},{"p":"WG9","s":"SORS","x":-0.01,"y":-0.001},{"p":"WG9","s":"SORS","x":0.01,"y":0.027},{"p":"WG9","s":"SORS","x":0.035,"y":0.052},{"p":"WG9","s":"SORS","x":0.06,"y":0.073},{"p":"WG9","s":"SORS","x":0.085,"y":0.092},{"p":"WG9","s":"SORS","x":0.11,"y":0.107},{"p":"WG9","s":"SORS","x":0.13,"y":0.117},{"p":"WG9","s":"SORS","x":0.142,"y":0.12},{"p":"WG9","s":"SORS","x":0.135,"y":0.108},{"p":"WG9","s":"SORS","x":0.115,"y":0.097},{"p":"WG9","s":"SORS","x":0.09,"y":0.083},{"p":"WG9","s":"SORS","x":0.065,"y":0.066},{"p":"WG9","s":"SORS","x":0.04,"y":0.042},{"p":"WG9","s":"SORS","x":0.018,"y":0.018},{"p":"WG9","s":"SORS","x":-0.003,"y":-0.008},{"p":"WG9","s":"SORS","x":-0.022,"y":-0.03},{"p":"WG9","s":"SORS","x":-0.04,"y":-0.052},{"p":"WG9","s":"SORS","x":-0.058,"y":-0.07},{"p":"WG9","s":"SORS","x":-0.062,"y":-0.06},{"p":"WG9","s":"SORS","x":-0.046,"y":-0.044},{"p":"WG9","s":"SORS","x":-0.028,"y":-0.024},{"p":"WG9","s":"SORS","x":-0.008,"y":0.002},{"p":"WG9","s":"SORS","x":0.012,"y":0.03},{"p":"WG9","s":"SORS","x":0.038,"y":0.054},{"p":"WG9","s":"SORS","x":0.062,"y":0.072},{"p":"WG9","s":"SORS","x":0.088,"y":0.088},{"p":"WG9","s":"SORS","x":0.112,"y":0.102},{"p":"WG9","s":"SORS","x":0.125,"y":0.106},{"p":"WG9","s":"SORS","x":0.11,"y":0.094},{"p":"WG9","s":"SORS","x":0.085,"y":0.078},{"p":"WG9","s":"SORS","x":0.06,"y":0.058},{"p":"WG9","s":"SORS","x":0.035,"y":0.034},{"p":"WG9","s":"SORS","x":0.01,"y":0.006},{"p":"WG9","s":"SORS","x":-0.012,"y":-0.02},{"p":"WG9","s":"SORS","x":-0.032,"y":-0.042},{"p":"WG9","s":"SORS","x":-0.052,"y":-0.06},
{"p":"WG9","s":"SORS","x":-0.062,"y":-0.07},{"p":"WG9","s":"SORS","x":-0.045,"y":-0.052},{"p":"WG9","s":"SORS","x":-0.025,"y":-0.032},{"p":"WG9","s":"SORS","x":-0.005,"y":-0.01},{"p":"WG9","s":"SORS","x":0.015,"y":0.012},{"p":"WG9","s":"SORS","x":0.035,"y":0.03},{"p":"WG9","s":"SORS","x":0.06,"y":0.052},{"p":"WG9","s":"SORS","x":0.085,"y":0.074},{"p":"WG9","s":"SORS","x":0.11,"y":0.092},{"p":"WG9","s":"SORS","x":0.13,"y":0.104},{"p":"WG9","s":"SORS","x":0.14,"y":0.106},{"p":"WG9","s":"SORS","x":0.12,"y":0.094},{"p":"WG9","s":"SORS","x":0.095,"y":0.078},{"p":"WG9","s":"SORS","x":0.07,"y":0.058},{"p":"WG9","s":"SORS","x":0.045,"y":0.036},{"p":"WG9","s":"SORS","x":0.02,"y":0.01},{"p":"WG9","s":"SORS","x":-0.005,"y":-0.016},{"p":"WG9","s":"SORS","x":-0.03,"y":-0.042},{"p":"WG9","s":"SORS","x":-0.05,"y":-0.062},
{"p":"WG9","s":"NL-SORS","x":-0.07,"y":-0.069},{"p":"WG9","s":"NL-SORS","x":-0.05,"y":-0.048},{"p":"WG9","s":"NL-SORS","x":-0.03,"y":-0.025},{"p":"WG9","s":"NL-SORS","x":-0.01,"y":-0.002},{"p":"WG9","s":"NL-SORS","x":0.01,"y":0.02},{"p":"WG9","s":"NL-SORS","x":0.035,"y":0.046},{"p":"WG9","s":"NL-SORS","x":0.06,"y":0.07},{"p":"WG9","s":"NL-SORS","x":0.085,"y":0.092},{"p":"WG9","s":"NL-SORS","x":0.11,"y":0.115},{"p":"WG9","s":"NL-SORS","x":0.13,"y":0.133},{"p":"WG9","s":"NL-SORS","x":0.146,"y":0.15},{"p":"WG9","s":"NL-SORS","x":0.13,"y":0.131},{"p":"WG9","s":"NL-SORS","x":0.11,"y":0.11},{"p":"WG9","s":"NL-SORS","x":0.085,"y":0.087},{"p":"WG9","s":"NL-SORS","x":0.06,"y":0.064},{"p":"WG9","s":"NL-SORS","x":0.035,"y":0.04},{"p":"WG9","s":"NL-SORS","x":0.01,"y":0.014},{"p":"WG9","s":"NL-SORS","x":-0.015,"y":-0.012},{"p":"WG9","s":"NL-SORS","x":-0.04,"y":-0.04},{"p":"WG9","s":"NL-SORS","x":-0.065,"y":-0.064},{"p":"WG9","s":"NL-SORS","x":-0.045,"y":-0.043},{"p":"WG9","s":"NL-SORS","x":-0.02,"y":-0.014},{"p":"WG9","s":"NL-SORS","x":0.005,"y":0.014},{"p":"WG9","s":"NL-SORS","x":0.03,"y":0.04},{"p":"WG9","s":"NL-SORS","x":0.055,"y":0.066},{"p":"WG9","s":"NL-SORS","x":0.08,"y":0.088},{"p":"WG9","s":"NL-SORS","x":0.105,"y":0.108},{"p":"WG9","s":"NL-SORS","x":0.125,"y":0.126},{"p":"WG9","s":"NL-SORS","x":0.1,"y":0.1},{"p":"WG9","s":"NL-SORS","x":0.075,"y":0.078},{"p":"WG9","s":"NL-SORS","x":0.05,"y":0.054},{"p":"WG9","s":"NL-SORS","x":0.025,"y":0.028},{"p":"WG9","s":"NL-SORS","x":0.0,"y":0.0},{"p":"WG9","s":"NL-SORS","x":-0.025,"y":-0.027},{"p":"WG9","s":"NL-SORS","x":-0.05,"y":-0.051},{"p":"WG9","s":"NL-SORS","x":-0.066,"y":-0.066}
]},
"hconcat":[
{"width":358,"height":356,"title":{"text":"WG1"},
 "transform":[{"filter":"datum.p=='WG1'"}],
 "resolve":{"axis":{"x":"independent","y":"independent"}},
 "layer":[
  {"transform":[{"filter":"datum.s=='SPAIR'"}],"mark":{"type":"line","interpolate":"cardinal","strokeWidth":1.8,"clip":true},
   "encoding":{"x":{"field":"x","type":"quantitative","scale":{"domain":[-0.12,0.165],"nice":false,"zero":false},"axis":{"orient":"bottom","values":[-0.1,-0.05,0,0.05,0.1,0.15],"labelExpr":"''+datum.value","labelFont":"Liberation Serif","labelFontSize":22,"labelPadding":19,"title":"Measured surface elevation [m]","titleFont":"Liberation Serif","titleFontSize":24,"titlePadding":5}},
   "y":{"field":"y","type":"quantitative","scale":{"domain":[-0.12,0.165],"nice":false,"zero":false},"axis":{"orient":"left","values":[-0.1,-0.05,0,0.05,0.1,0.15],"labelExpr":"''+datum.value","labelFont":"Liberation Serif","labelFontSize":22,"labelPadding":16,"title":"Estimated total surface elevation [m]","titleFont":"Liberation Serif","titleFontSize":24,"titlePadding":7}},
   "color":{"field":"s","type":"nominal","scale":{"domain":["SPAIR","SORS","NL-SORS"],"range":["#2a2e7a","#b4288f","#29abe2"]},"legend":{"orient":"none","legendX":519,"legendY":438,"title":null,"symbolType":"M-1,0H5","symbolSize":400,"symbolStrokeWidth":1.2,"labelFont":"Liberation Serif","labelFontSize":19.5,"labelColor":"#000","strokeColor":"#222","fillColor":"white","padding":6,"rowPadding":5,"labelOffset":45}},
   "order":{"value":null}}},
  {"transform":[{"filter":"datum.s=='SORS'"}],"mark":{"type":"line","interpolate":"cardinal","strokeWidth":1.8,"clip":true},
   "encoding":{"x":{"field":"x","type":"quantitative","axis":null},"y":{"field":"y","type":"quantitative","axis":null},"color":{"field":"s","type":"nominal"},"order":{"value":null}}},
  {"transform":[{"filter":"datum.s=='NL-SORS'"}],"mark":{"type":"line","interpolate":"cardinal","strokeWidth":5,"clip":true},
   "encoding":{"x":{"field":"x","type":"quantitative","axis":null},"y":{"field":"y","type":"quantitative","axis":null},"color":{"field":"s","type":"nominal"},"order":{"value":null}}},
  {"transform":[{"filter":"datum.s=='info'"}],"mark":{"type":"rule","color":"#000","strokeWidth":1},
   "encoding":{"x":{"datum":-0.12,"type":"quantitative","axis":{"orient":"top","values":[-0.1,-0.05,0,0.05,0.1,0.15],"labels":false,"title":null}},"y":{"datum":-0.12,"type":"quantitative","axis":{"orient":"right","values":[-0.1,-0.05,0,0.05,0.1,0.15],"labels":false,"title":null}},"x2":{"datum":0.165},"y2":{"datum":0.165}}},
  {"transform":[{"filter":"datum.s=='info'"}],"mark":{"type":"rect","fill":"white","stroke":"#222","strokeWidth":1},
   "encoding":{"x":{"datum":-0.115,"type":"quantitative","axis":null},"x2":{"datum":-0.006},"y":{"datum":0.161,"type":"quantitative","axis":null},"y2":{"datum":0.088}}},
  {"transform":[{"filter":"datum.s=='info'"}],"mark":{"type":"text","align":"left","baseline":"alphabetic","lineBreak":"\n","lineHeight":20,"font":"Liberation Serif","fontSize":16,"color":"#000"},
   "encoding":{"x":{"datum":-0.104,"type":"quantitative","axis":null},"y":{"datum":0.1443,"type":"quantitative","axis":null},"text":{"field":"t"}}}
 ]},
{"width":358,"height":356,"title":{"text":"WG4"},
 "transform":[{"filter":"datum.p=='WG4'"}],
 "resolve":{"axis":{"x":"independent","y":"independent"}},
 "layer":[
  {"transform":[{"filter":"datum.s=='SPAIR'"}],"mark":{"type":"line","interpolate":"cardinal","strokeWidth":1.8,"clip":true},
   "encoding":{"x":{"field":"x","type":"quantitative","scale":{"domain":[-0.12,0.165],"nice":false,"zero":false},"axis":{"orient":"bottom","values":[-0.1,-0.05,0,0.05,0.1,0.15],"labelExpr":"''+datum.value","labelFont":"Liberation Serif","labelFontSize":22,"labelPadding":19,"title":"Measured surface elevation [m]","titleFont":"Liberation Serif","titleFontSize":24,"titlePadding":5}},
   "y":{"field":"y","type":"quantitative","scale":{"domain":[-0.12,0.165],"nice":false,"zero":false},"axis":{"orient":"left","values":[-0.1,-0.05,0,0.05,0.1,0.15],"labelExpr":"''+datum.value","labelFont":"Liberation Serif","labelFontSize":22,"labelPadding":16,"title":null}},
   "color":{"field":"s","type":"nominal"},"order":{"value":null}}},
  {"transform":[{"filter":"datum.s=='SORS'"}],"mark":{"type":"line","interpolate":"cardinal","strokeWidth":1.8,"clip":true},
   "encoding":{"x":{"field":"x","type":"quantitative","axis":null},"y":{"field":"y","type":"quantitative","axis":null},"color":{"field":"s","type":"nominal"},"order":{"value":null}}},
  {"transform":[{"filter":"datum.s=='NL-SORS'"}],"mark":{"type":"line","interpolate":"cardinal","strokeWidth":6,"clip":true},
   "encoding":{"x":{"field":"x","type":"quantitative","axis":null},"y":{"field":"y","type":"quantitative","axis":null},"color":{"field":"s","type":"nominal"},"order":{"value":null}}},
  {"transform":[{"filter":"datum.s=='info'"}],"mark":{"type":"rule","color":"#000","strokeWidth":1},
   "encoding":{"x":{"datum":-0.12,"type":"quantitative","axis":{"orient":"top","values":[-0.1,-0.05,0,0.05,0.1,0.15],"labels":false,"title":null}},"y":{"datum":-0.12,"type":"quantitative","axis":{"orient":"right","values":[-0.1,-0.05,0,0.05,0.1,0.15],"labels":false,"title":null}},"x2":{"datum":0.165},"y2":{"datum":0.165}}},
  {"transform":[{"filter":"datum.s=='info'"}],"mark":{"type":"rect","fill":"white","stroke":"#222","strokeWidth":1},
   "encoding":{"x":{"datum":-0.115,"type":"quantitative","axis":null},"x2":{"datum":-0.006},"y":{"datum":0.161,"type":"quantitative","axis":null},"y2":{"datum":0.088}}},
  {"transform":[{"filter":"datum.s=='info'"}],"mark":{"type":"text","align":"left","baseline":"alphabetic","lineBreak":"\n","lineHeight":20,"font":"Liberation Serif","fontSize":16,"color":"#000"},
   "encoding":{"x":{"datum":-0.104,"type":"quantitative","axis":null},"y":{"datum":0.1443,"type":"quantitative","axis":null},"text":{"field":"t"}}}
 ]},
{"width":358,"height":356,"title":{"text":"WG9"},
 "transform":[{"filter":"datum.p=='WG9'"}],
 "resolve":{"axis":{"x":"independent","y":"independent"}},
 "layer":[
  {"transform":[{"filter":"datum.s=='SPAIR'"}],"mark":{"type":"line","interpolate":"cardinal","strokeWidth":1.8,"clip":true},
   "encoding":{"x":{"field":"x","type":"quantitative","scale":{"domain":[-0.12,0.165],"nice":false,"zero":false},"axis":{"orient":"bottom","values":[-0.1,-0.05,0,0.05,0.1,0.15],"labelExpr":"''+datum.value","labelFont":"Liberation Serif","labelFontSize":22,"labelPadding":19,"title":"Measured surface elevation [m]","titleFont":"Liberation Serif","titleFontSize":24,"titlePadding":5}},
   "y":{"field":"y","type":"quantitative","scale":{"domain":[-0.12,0.165],"nice":false,"zero":false},"axis":{"orient":"left","values":[-0.1,-0.05,0,0.05,0.1,0.15],"labelExpr":"''+datum.value","labelFont":"Liberation Serif","labelFontSize":22,"labelPadding":16,"title":null}},
   "color":{"field":"s","type":"nominal"},"order":{"value":null}}},
  {"transform":[{"filter":"datum.s=='SORS'"}],"mark":{"type":"line","interpolate":"cardinal","strokeWidth":1.8,"clip":true},
   "encoding":{"x":{"field":"x","type":"quantitative","axis":null},"y":{"field":"y","type":"quantitative","axis":null},"color":{"field":"s","type":"nominal"},"order":{"value":null}}},
  {"transform":[{"filter":"datum.s=='NL-SORS'"}],"mark":{"type":"line","interpolate":"cardinal","strokeWidth":7,"clip":true},
   "encoding":{"x":{"field":"x","type":"quantitative","axis":null},"y":{"field":"y","type":"quantitative","axis":null},"color":{"field":"s","type":"nominal"},"order":{"value":null}}},
  {"transform":[{"filter":"datum.s=='info'"}],"mark":{"type":"rule","color":"#000","strokeWidth":1},
   "encoding":{"x":{"datum":-0.12,"type":"quantitative","axis":{"orient":"top","values":[-0.1,-0.05,0,0.05,0.1,0.15],"labels":false,"title":null}},"y":{"datum":-0.12,"type":"quantitative","axis":{"orient":"right","values":[-0.1,-0.05,0,0.05,0.1,0.15],"labels":false,"title":null}},"x2":{"datum":0.165},"y2":{"datum":0.165}}},
  {"transform":[{"filter":"datum.s=='info'"}],"mark":{"type":"rect","fill":"white","stroke":"#222","strokeWidth":1},
   "encoding":{"x":{"datum":-0.115,"type":"quantitative","axis":null},"x2":{"datum":-0.006},"y":{"datum":0.161,"type":"quantitative","axis":null},"y2":{"datum":0.088}}},
  {"transform":[{"filter":"datum.s=='info'"}],"mark":{"type":"text","align":"left","baseline":"alphabetic","lineBreak":"\n","lineHeight":20,"font":"Liberation Serif","fontSize":16,"color":"#000"},
   "encoding":{"x":{"datum":-0.104,"type":"quantitative","axis":null},"y":{"datum":0.1443,"type":"quantitative","axis":null},"text":{"field":"t"}}}
 ]}
]
}
